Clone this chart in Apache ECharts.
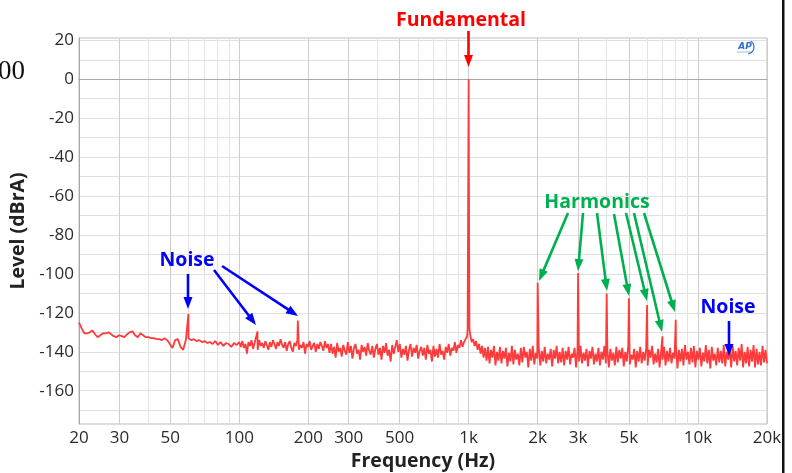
<!DOCTYPE html>
<html><head><meta charset="utf-8">
<script src="https://cdn.jsdelivr.net/npm/echarts@6/dist/echarts.min.js"></script>
<style>html,body{margin:0;padding:0;background:#fff}#c{width:792px;height:473px}</style>
</head><body><div id="c"></div>
<script>
// ---- data (levels in dBrA) ----
// noise floor 20 Hz .. ~97 Hz (60 log-spaced bins)
const noiseLowLevels = [
-125,-128,-130.5,-130.5,-130,-129,-131,-132.5,-131.5,-130.5,
-130.5,-130,-131,-132,-132.5,-131.5,-132,-132.5,-131,-130,
-129.5,-131.5,-132.5,-130.5,-131.5,-132.5,-132.5,-133,-133,-133.5,
-133.5,-134,-133,-134,-136,-138,-134,-133.5,-137.5,-139,
-134,-133,-134,-133.5,-134.5,-134,-135,-134.5,-135.5,-135,
-136,-134.5,-136.5,-135,-137,-135.5,-136,-137.5,-135.5,-136.5];
// noise floor 100 Hz .. ~955 Hz (150 log-spaced bins)
const noiseMidLevels = [
-135,-137.5,-134.5,-138,-136,-141,-135,-137,-134,-138.5,
-135.5,-136,-139,-134,-137,-135.5,-138,-134.5,-136.5,-139,
-135,-137.5,-134,-136,-138.5,-135,-137,-133.5,-136.5,-138,
-135,-139.5,-136,-134.5,-138,-140,-135.5,-137,-134,-139,
-136.5,-138,-135,-141,-136,-137.5,-134.5,-139,-137,-135.5,
-140,-136,-138.5,-135,-137,-139.5,-134.5,-138,-136,-140.5,
-136,-141,-137.5,-143,-135.5,-140,-138,-142.5,-136.5,-139.5,
-141.5,-135,-140.5,-137,-143.5,-138,-136,-141,-139,-144,
-136.5,-140,-137.5,-142,-135.5,-139.5,-141.5,-137,-143,-138.5,
-136,-141.5,-138,-144,-137,-140.5,-135.5,-142,-139,-145,
-136.5,-141,-137.5,-134,-140,-136,-143,-138.5,-141.5,-137,
-144.5,-139,-136,-142.5,-138,-140.5,-136.5,-143.5,-139.5,-137.5,
-142,-138,-144,-136.5,-141,-139,-145,-137,-142.5,-138.5,
-143,-136,-141.5,-139.5,-144,-137.5,-140.5,-136,-142,-138,
-139.5,-135,-140.5,-136.5,-138,-134,-137.5,-135,-133.5,-132];
// noise floor ~1015 Hz .. 20 kHz (200 log-spaced bins)
const noiseHighLevels = [
-131,-135,-133.5,-137,-134.5,-139,-136,-141,-137,-143,
-138,-144.5,-137.5,-146,-139,-143,-137,-147,-140,-144.5,
-137.5,-146,-139.5,-143.5,-138,-147.5,-140.5,-145,-137,-146.5,
-139,-144,-141,-147,-138,-145.5,-137.5,-143,-140,-148,
-138.5,-144.5,-137,-146.5,-140.5,-143.5,-138,-147,-139.5,-145,
-137.5,-146,-141,-144,-138.5,-147.5,-139,-143.5,-137,-146,
-140,-145.5,-138,-147,-139.5,-144,-137.5,-146.5,-141,-143,
-138,-148,-139,-145,-137,-146,-140.5,-144.5,-138.5,-147.5,
-139.5,-143.5,-137.5,-146.5,-141,-145,-138,-147,-140,-144,
-137,-146,-139,-148,-138.5,-144.5,-140.5,-147,-137.5,-145.5,
-139,-143.5,-138,-147.5,-140,-145,-137,-146.5,-141.5,-144,
-138.5,-148,-139.5,-145,-137.5,-146,-140,-144.5,-138,-147,
-139,-143,-137,-146.5,-141,-145.5,-138.5,-148,-140,-144,
-137.5,-147,-139.5,-145,-138,-146,-140.5,-143.5,-137,-148.5,
-139,-145,-138.5,-147,-136.5,-144,-140,-146.5,-138,-145.5,
-137,-148,-139.5,-144,-138,-147.5,-140.5,-145,-136.5,-146,
-139,-148.5,-137.5,-144.5,-141,-147,-138,-145.5,-139.5,-146,
-136.5,-147.5,-140,-144,-138.5,-148,-137,-145,-139.5,-147,
-138,-144.5,-136,-148,-140,-146,-137.5,-147.5,-139,-145,
-136.5,-148,-138.5,-146.5,-140,-147,-137,-145.5,-139,-146];
// discrete tones (mains noise, fundamental with skirt, harmonics)
const toneHz     = [60, 120, 180, 990, 1000, 1008, 2000, 3000, 4000, 5000, 6000, 7000, 8000];
const toneLevels = [-120.5, -129.5, -124, -128, 0, -128, -104.5, -99.5, -110, -112.5, -116, -132, -123.5];

// axes
const xGridHz  = [20,30,40,50,60,70,80,90,100,200,300,400,500,600,700,800,900,1000,2000,3000,4000,5000,6000,7000,8000,9000,10000,20000];
const xLabelHz = [20,30,50,100,200,300,500,1000,2000,3000,5000,10000,20000];
const yGridLevels  = [-170,-160,-150,-140,-130,-120,-110,-100,-90,-80,-70,-60,-50,-40,-30,-20,-10,0,10,20];
const yLabelLevels = [-160,-140,-120,-100,-80,-60,-40,-20,0,20];

// ---- build the spectrum (FFT bins on a log-spaced frequency grid) ----
function bins(f0, f1, levels, shift) {
  const n = levels.length;
  return levels.map((v, i) => [f0 * Math.pow(f1 / f0, (i + shift) / n), v]);
}
const spectrum = []
  .concat(bins(20, 100, noiseLowLevels, 0))
  .concat(bins(100, 1000, noiseMidLevels, 0))
  .concat(bins(1000, 20000, noiseHighLevels, 1))
  .concat(toneHz.map((f, i) => [f, toneLevels[i]]))
  .sort((a, b) => a[0] - b[0]);

const FONT = '"Open Sans", "DejaVu Sans", sans-serif';
const xGridColors = xGridHz.map(f => xLabelHz.indexOf(f) >= 0 ? '#cdcdcd' : '#e4e4e4');

const chart = echarts.init(document.getElementById('c'), null, {renderer: 'canvas'});

// annotation arrows (pixel positions)
const RED = '#ff0000', GREEN = '#00b050', BLUE = '#0000ff';
const arrows = [
  {c: RED,   from: [468.5, 31],  to: [468.5, 67]},
  {c: GREEN, from: [568, 213], to: [539, 281]},
  {c: GREEN, from: [583, 213], to: [578, 271]},
  {c: GREEN, from: [597, 213], to: [607, 291]},
  {c: GREEN, from: [614, 214], to: [629, 296]},
  {c: GREEN, from: [626, 213], to: [647, 301]},
  {c: GREEN, from: [634, 213], to: [662, 332]},
  {c: GREEN, from: [644, 213], to: [675, 312]},
  {c: BLUE,  from: [188, 274], to: [188, 309]},
  {c: BLUE,  from: [214, 270], to: [256, 325]},
  {c: BLUE,  from: [222, 266], to: [298, 316]},
  {c: BLUE,  from: [729, 321], to: [729, 356]}
];
const labels = [
  {t: 'Fundamental', c: RED,   x: 461, y: 20},
  {t: 'Harmonics',   c: GREEN, x: 597, y: 202},
  {t: 'Noise',       c: BLUE,  x: 187, y: 260},
  {t: 'Noise',       c: BLUE,  x: 728, y: 307}
];
const graphics = [];
arrows.forEach(a => {
  const dx = a.to[0] - a.from[0], dy = a.to[1] - a.from[1];
  const L = Math.hypot(dx, dy), ux = dx / L, uy = dy / L;
  const hl = 12, hw = 4.5;
  const bx = a.to[0] - ux * hl, by = a.to[1] - uy * hl;
  graphics.push({type: 'line', silent: true, z: 10,
    shape: {x1: a.from[0], y1: a.from[1], x2: bx + ux, y2: by + uy},
    style: {stroke: a.c, lineWidth: 2.6}});
  graphics.push({type: 'polygon', silent: true, z: 10,
    shape: {points: [[a.to[0], a.to[1]], [bx - uy * hw, by + ux * hw], [bx + uy * hw, by - ux * hw]]},
    style: {fill: a.c}});
});
labels.forEach(l => graphics.push({type: 'text', silent: true, z: 10, x: l.x, y: l.y,
  style: {text: l.t, fill: l.c, font: 'bold 19.5px ' + FONT, fontWeight: 'bold', fontSize: 19.5, fontFamily: FONT,
          align: 'center', verticalAlign: 'middle', textAlign: 'center', textVerticalAlign: 'middle'}}));
// cropped text fragment at the upper left
graphics.push({type: 'text', silent: true, x: 25, y: 72,
  style: {text: '00', fill: '#111', font: '27px "Liberation Serif", "DejaVu Serif", serif',
          align: 'right', verticalAlign: 'middle', textAlign: 'right', textVerticalAlign: 'middle'}});
// AP logo
graphics.push({type: 'text', silent: true, x: 745, y: 47,
  style: {text: 'AP', fill: '#2f6fd0', font: 'italic bold 9px "DejaVu Sans", sans-serif',
          align: 'center', verticalAlign: 'middle', textAlign: 'center', textVerticalAlign: 'middle'}});
graphics.push({type: 'arc', silent: true, shape: {cx: 747, cy: 47, r: 7, startAngle: -1.3, endAngle: 1.4},
  style: {stroke: '#2f6fd0', lineWidth: 1.2, fill: null}});
graphics.push({type: 'line', silent: true, shape: {x1: 737, y1: 52, x2: 752, y2: 52},
  style: {stroke: '#2f6fd0', lineWidth: 0.8, opacity: 0.6}});
// frame line at the right edge
graphics.push({type: 'rect', silent: true, shape: {x: 782, y: 0, width: 2.5, height: 473}, style: {fill: '#111'}});

chart.setOption({
  animation: false,
  backgroundColor: '#ffffff',
  grid: {left: 79, right: 25, top: 38, bottom: 49, show: true, borderColor: '#bdbdbd', borderWidth: 1,
         containLabel: false, outerBoundsMode: 'none'},
  xAxis: {
    type: 'log', logBase: 10, min: 20, max: 20000,
    axisLine: {show: true, lineStyle: {color: '#a8a8a8'}},
    axisTick: {show: false, customValues: xGridHz},
    minorTick: {show: false}, minorSplitLine: {show: false},
    axisLabel: {customValues: xLabelHz, fontFamily: FONT, fontSize: 17, color: '#2b2b2b', margin: 6,
      formatter: v => { const r = Math.round(v); return r >= 1000 ? (r / 1000) + 'k' : String(r); }},
    splitLine: {show: true, lineStyle: {color: xGridColors, width: 1}},
    name: 'Frequency (Hz)', nameLocation: 'middle', nameGap: 26,
    nameTextStyle: {fontFamily: FONT, fontSize: 19.5, fontWeight: 'bold', color: '#222'}
  },
  yAxis: {
    type: 'value', min: -177.1, max: 21.2,
    axisLine: {show: true, lineStyle: {color: '#a8a8a8'}},
    axisTick: {show: false, customValues: yGridLevels},
    axisLabel: {customValues: yLabelLevels, fontFamily: FONT, fontSize: 17, color: '#2b2b2b', margin: 5},
    splitLine: {show: true, lineStyle: {color: '#e0e0e0', width: 1}},
    name: 'Level (dBrA)', nameLocation: 'middle', nameGap: 48, nameRotate: 90,
    nameTextStyle: {fontFamily: FONT, fontSize: 19.5, fontWeight: 'bold', color: '#222'}
  },
  series: [{
    type: 'line', data: spectrum, showSymbol: false, symbol: 'none', sampling: null,
    lineStyle: {color: '#ff3a3a', width: 1.8}, itemStyle: {color: '#ff3a3a'},
    emphasis: {disabled: true}, clip: true, z: 3
  }],
  graphic: graphics
});
</script></body></html>
